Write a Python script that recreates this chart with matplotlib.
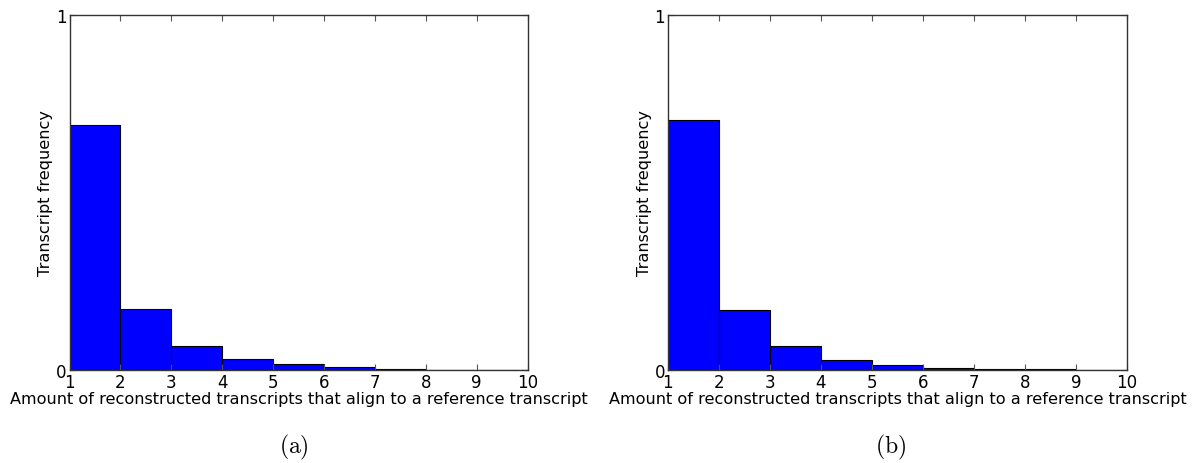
import matplotlib
matplotlib.use("Agg")
import matplotlib.pyplot as plt

# bin left edges and heights
bin_edges = [1, 2, 3, 4, 5, 6, 7, 8, 9, 10]
freq_a = [0.690, 0.172, 0.067, 0.031, 0.017, 0.0085, 0.004, 0.0012, 0.0006]
freq_b = [0.704, 0.169, 0.067, 0.029, 0.015, 0.0065, 0.004, 0.0015, 0.0006]
xticks = [1, 2, 3, 4, 5, 6, 7, 8, 9, 10]
yticks = [0, 1]
captions = ["(a)", "(b)"]

xlabel = "Amount of reconstructed transcripts that align to a reference transcript"
ylabel = "Transcript frequency"

plt.rcParams["font.family"] = ["DejaVu Sans"]
plt.rcParams["mathtext.fontset"] = "cm"

fig = plt.figure(figsize=(11.99, 4.64), dpi=100)
fig.patch.set_facecolor("white")

positions = [[0.058, 0.2004, 0.382, 0.7651], [0.557, 0.2004, 0.383, 0.7651]]
caption_x = [0.245, 0.743]

for pos, freq, cap, cx in zip(positions, [freq_a, freq_b], captions, caption_x):
    ax = fig.add_axes(pos)
    ax.bar(bin_edges[:-1], freq, width=1, align="edge", color="#0000ff",
           edgecolor="black", linewidth=0.8)
    ax.set_xlim(1, 10)
    ax.set_ylim(0, 1)
    ax.set_xticks(xticks)
    ax.set_yticks(yticks)
    ax.tick_params(direction="in", length=4, width=0.8, top=True, right=True,
                   labelsize=12, pad=2, color="#555555")
    for s in ax.spines.values():
        s.set_linewidth(1.0)
        s.set_color("#333333")
    ax.set_xlabel(xlabel, fontsize=11.6, labelpad=0)
    ax.set_ylabel(ylabel, fontsize=11.6, labelpad=2)
    fig.text(cx, 0.035, r"$\mathrm{" + cap + "}$", fontsize=17, ha="center", va="center")

fig.savefig("out.png", dpi=100, facecolor="white")
